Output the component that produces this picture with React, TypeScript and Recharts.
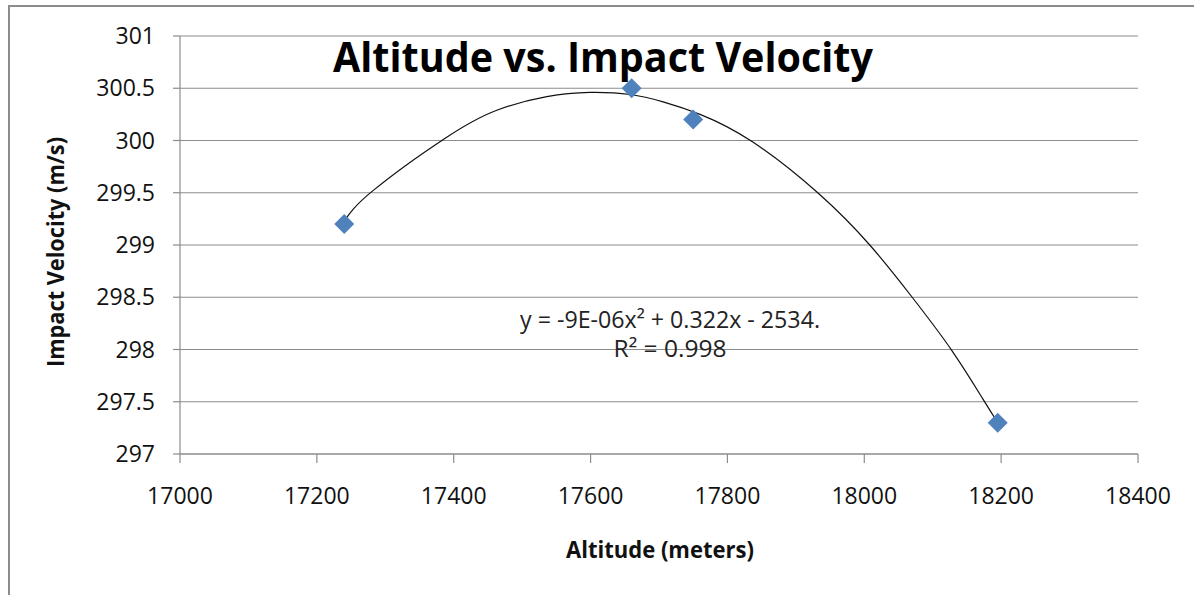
import React from 'react';
import { ComposedChart, Scatter, Line, XAxis, YAxis, CartesianGrid } from 'recharts';

const altitudes = [17240, 17660, 17750, 18195];
const velocities = [299.2, 300.5, 300.2, 297.3];

const trendAltitudes = [17240, 17282, 17387, 17463, 17536, 17599, 17658, 17706, 17760, 17836, 17932, 18008, 18070, 18128, 18173, 18195];
const trendVelocities = [299.23, 299.52, 300.02, 300.29, 300.42, 300.46, 300.44, 300.37, 300.25, 299.99, 299.5, 299.0, 298.5, 297.99, 297.53, 297.3];

const xTicks = [17000, 17200, 17400, 17600, 17800, 18000, 18200, 18400];
const yTicks = [297, 297.5, 298, 298.5, 299, 299.5, 300, 300.5, 301];

const titleText = 'Altitude vs. Impact Velocity';
const xTitle = 'Altitude (meters)';
const yTitle = 'Impact Velocity (m/s)';
const equationText = 'y = -9E-06x\u00B2 + 0.322x - 2534.';
const r2Text = 'R\u00B2 = 0.998';

const points = altitudes.map((x, i) => ({ x, y: velocities[i] }));
const trend = trendAltitudes.map((x, i) => ({ x, y: trendVelocities[i] }));

const FONT = '"Open Sans", "DejaVu Sans", sans-serif';
const GRID = '#8c8c8c';

const Diamond = (props: any) => {
  const { cx, cy } = props;
  if (cx == null || cy == null) return null;
  const r = 10;
  return (
    <polygon
      points={`${cx},${cy - r} ${cx + r},${cy} ${cx},${cy + r} ${cx - r},${cy}`}
      fill="#4f81bd"
    />
  );
};

export default function App() {
  return (
    <div style={{ position: 'absolute', left: 0, top: 0, width: 1194, height: 595, background: '#fff' }}>
      <ComposedChart
        width={1194}
        height={595}
        margin={{ top: 36, right: 56, bottom: 0, left: 0 }}
      >
        <CartesianGrid horizontal={true} vertical={false} stroke={GRID} strokeWidth={1.2} />
        <XAxis
          type="number"
          dataKey="x"
          domain={[17000, 18400]}
          ticks={xTicks}
          height={141}
          stroke={GRID}
          strokeWidth={1.2}
          tickSize={9}
          tickMargin={25}
          tick={{ fill: '#111', fontSize: 23, fontFamily: FONT }}
          allowDataOverflow
        />
        <YAxis
          type="number"
          dataKey="y"
          domain={[297, 301]}
          ticks={yTicks}
          width={180}
          stroke={GRID}
          strokeWidth={1.2}
          tickSize={7}
          tickMargin={18}
          tick={{ fill: '#111', fontSize: 23, fontFamily: FONT }}
          allowDataOverflow
        />
        <Line
          data={trend}
          dataKey="y"
          type="natural"
          stroke="#111"
          strokeWidth={1.2}
          dot={false}
          activeDot={false}
          isAnimationActive={false}
        />
        <Scatter data={points} dataKey="y" shape={Diamond} isAnimationActive={false} />
      </ComposedChart>
      <svg
        width={1194}
        height={595}
        style={{ position: 'absolute', left: 0, top: 0, pointerEvents: 'none' }}
      >
        <path d="M9,595 L9,6 L1194,6" fill="none" stroke="#8c8c8c" strokeWidth={2} />
        <text
          x={603}
          y={72}
          textAnchor="middle"
          fontFamily={FONT}
          fontWeight="bold"
          fontSize={42}
          fill="#000"
          textLength={540}
          lengthAdjust="spacingAndGlyphs"
        >
          {titleText}
        </text>
        <text
          x={660}
          y={558}
          textAnchor="middle"
          fontFamily={FONT}
          fontWeight="bold"
          fontSize={23}
          fill="#111"
          textLength={188}
          lengthAdjust="spacingAndGlyphs"
        >
          {xTitle}
        </text>
        <text
          x={64}
          y={252}
          transform="rotate(-90, 64, 252)"
          textAnchor="middle"
          fontFamily={FONT}
          fontWeight="bold"
          fontSize={23}
          fill="#111"
          textLength={230}
          lengthAdjust="spacingAndGlyphs"
        >
          {yTitle}
        </text>
        <text
          x={670}
          y={328}
          textAnchor="middle"
          fontFamily={FONT}
          fontSize={23}
          fill="#222"
          textLength={300}
          lengthAdjust="spacingAndGlyphs"
        >
          {equationText}
        </text>
        <text
          x={670}
          y={357}
          textAnchor="middle"
          fontFamily={FONT}
          fontSize={23}
          fill="#222"
          textLength={113}
          lengthAdjust="spacingAndGlyphs"
        >
          {r2Text}
        </text>
      </svg>
    </div>
  );
}
